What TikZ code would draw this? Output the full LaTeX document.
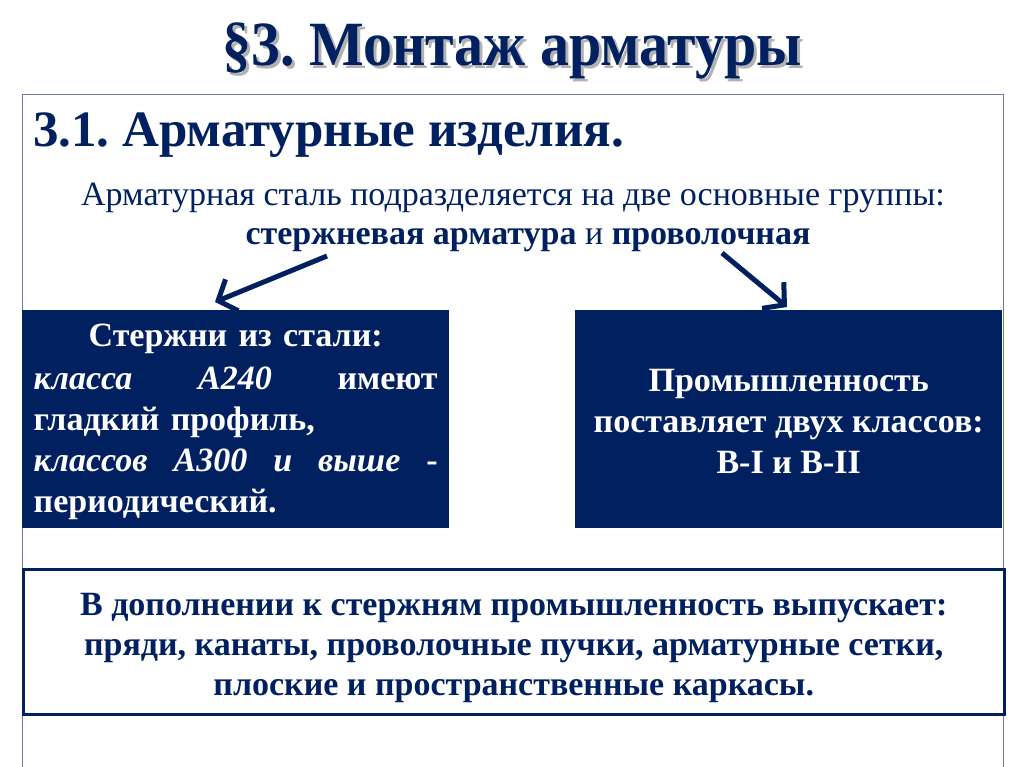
\documentclass[tikz,border=0pt]{standalone}
\usepackage{fontspec}
\setmainfont{Liberation Serif}
\newfontfamily\titlefont[FakeStretch=0.92]{Liberation Serif}
\usetikzlibrary{arrows.meta}
\definecolor{navy}{HTML}{002060}
\definecolor{framecol}{HTML}{6B7BA6}
\begin{document}
\frenchspacing
\begin{tikzpicture}[x=1pt,y=-1pt]
    \tikzset{%
        headtext/.style = {text=navy, inner sep=0pt, font=\titlefont\fontsize{63}{70}\selectfont\bfseries},
        subhead/.style  = {text=navy, inner sep=0pt, font=\fontsize{51}{60}\selectfont\bfseries},
        plaintext/.style= {text=navy, inner sep=0pt, font=\fontsize{34}{40}\selectfont},
        bluebox/.style  = {fill=navy, inner sep=0pt,
            minimum width=427pt, minimum height=218pt, anchor=north west},
        boxtext/.style  = {text=white, inner sep=0pt, font=\fontsize{34}{41}\selectfont\bfseries},
        whitebox/.style = {draw=navy, line width=2.5pt, fill=white, inner sep=0pt,
            minimum width=981pt, minimum height=145pt, anchor=north west},
        notetext/.style = {text=navy, inner sep=0pt, align=center,
            font=\fontsize{34}{40}\selectfont\bfseries},
        thickarrow/.style = {draw=navy, line width=5pt, -{Straight Barb[length=15pt,width=34pt]}}}
    \useasboundingbox (0,0) rectangle (1024,767);
    \fill[white] (0,0) rectangle (1024,767);
    % frame
    \draw[framecol, line width=1pt] (22,770) -- (22,95) -- (1003,95) -- (1003,770);
    % title with shadow
    \node[headtext, text=black!30] at (515,54) {§3. Монтаж арматуры};
    \node[headtext] (title) at (512,51) {§3. Монтаж арматуры};
    \node[subhead, anchor=west] (sect) at (33,135) {3.1. Арматурные изделия.};
    \node[plaintext] (groups) at (513,198) {Арматурная сталь подразделяется на две основные группы:};
    \node[plaintext] (kinds) at (528,240) {\textbf{стержневая арматура} и \textbf{проволочная}};
    % boxes
    \node[bluebox] (rods) at (22,310) {};
    \node[boxtext, text width=404pt, align=left] (rodstext) at ([yshift=-3pt]rods.center) {%
        \makebox[\linewidth]{Стержни из стали:}\\[2pt]
        \textit{класса}\hfill\textit{А240}\hfill имеют\\
        гладкий профиль,\\
        \textit{классов}\hfill\textit{А300}\hfill\textit{и}\hfill\textit{выше}\hfill -\\
        периодический.};
    \node[bluebox] (wire) at (575,310) {};
    \node[boxtext, align=center] (wiretext) at ([yshift=-2pt]wire.center) {%
        Промышленность\\поставляет двух классов:\\B-I и B-II};
    \node[whitebox] (extra) at (22,568) {};
    \node[notetext] (extratext) at ([yshift=-6pt]extra.center) {%
        В дополнении к стержням промышленность выпускает:\\
        пряди, канаты, проволочные пучки, арматурные сетки,\\
        плоские и пространственные каркасы.};
    % arrows
    \coordinate (rodstart) at (327,256);
    \coordinate (rodend) at (215,302);
    \coordinate (wirestart) at (722,253);
    \coordinate (wireend) at (787,307);
    \draw[thickarrow] (rodstart) -- (rodend);
    \draw[thickarrow] (wirestart) -- (wireend);
\end{tikzpicture}
\end{document}
